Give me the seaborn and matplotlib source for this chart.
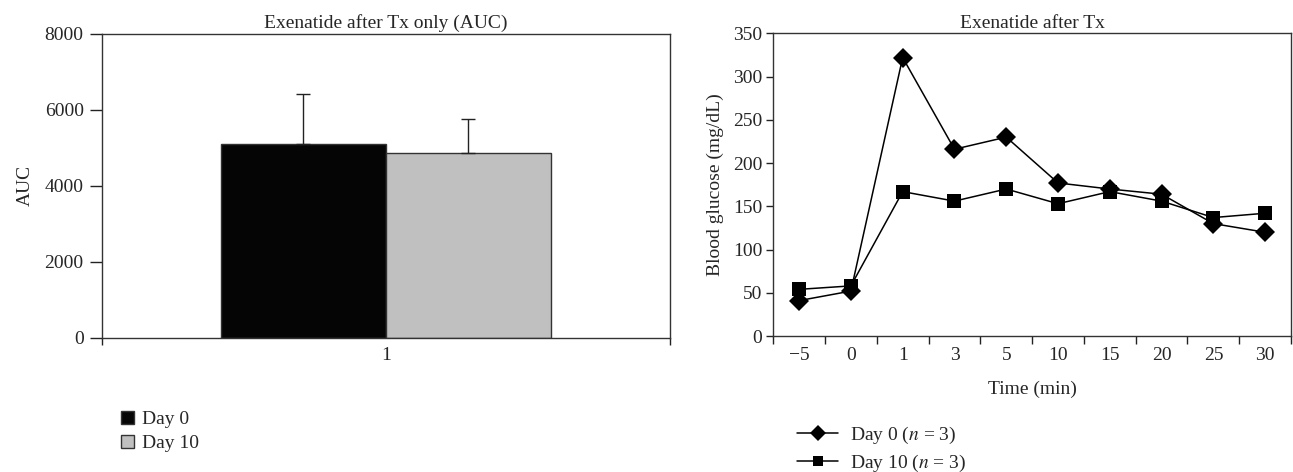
import seaborn as sns
import matplotlib.pyplot as plt
import pandas as pd
from matplotlib.patches import Patch
from matplotlib.lines import Line2D

# AUC bar chart (left)
auc_days = ["Day 0", "Day 10"]
auc_mean = [5095, 4865]
auc_err = [1305, 885]

# blood glucose time course (right)
time_labels = ["\u22125", "0", "1", "3", "5", "10", "15", "20", "25", "30"]
day0_glucose = [41, 52, 322, 216, 230, 177, 170, 164, 130, 120]
day10_glucose = [54, 58, 167, 156, 170, 153, 167, 156, 137, 142]

sns.set_theme(style="white")
plt.rcParams["font.family"] = ["Liberation Serif", "DejaVu Serif"]
plt.rcParams["mathtext.fontset"] = "stix"
fs = 14

fig = plt.figure(figsize=(12.93, 4.72), dpi=100)
ax1 = fig.add_axes([0.0787, 0.2845, 0.4395, 0.6445])
ax2 = fig.add_axes([0.598, 0.288, 0.4005, 0.6414])

# ---- left: bars ----
df_auc = pd.DataFrame({"group": ["1", "1"], "day": auc_days, "auc": auc_mean})
colors = ["#050505", "#c0c0c0"]
sns.barplot(data=df_auc, x="group", y="auc", hue="day", palette=colors,
            width=0.58, gap=0, edgecolor="#333333", linewidth=1.0,
            errorbar=None, legend=False, ax=ax1)
bars = [p for p in ax1.patches][:2]
for p, e in zip(bars, auc_err):
    xc = p.get_x() + p.get_width() / 2
    ax1.errorbar([xc], [p.get_height()], yerr=[[0], [e]], fmt="none",
                 ecolor="#222222", elinewidth=1.0, capsize=5, capthick=1.0)
ax1.set_xlim(-0.5, 0.5)
ax1.set_ylim(0, 8000)
ax1.set_yticks([0, 2000, 4000, 6000, 8000])
ax1.set_xticks([0])
ax1.set_xticklabels(["1"])
ax1.set_xticks([-0.5, 0.5], minor=True)
ax1.tick_params(axis="x", which="major", length=0, pad=7, labelsize=fs)
ax1.tick_params(axis="x", which="minor", length=5, width=1, direction="out",
                bottom=True, color="#222222")
ax1.tick_params(axis="y", length=9, width=1, direction="out", left=True,
                pad=4, labelsize=fs, color="#222222")
ax1.set_xlabel("")
ax1.set_ylabel("AUC", fontsize=fs, labelpad=8)
ax1.set_title("Exenatide after Tx only (AUC)", fontsize=fs, pad=4)
for s in ax1.spines.values():
    s.set_color("#333333")
    s.set_linewidth(1.0)

fig.legend(handles=[Patch(facecolor=colors[0], edgecolor="#333333", label=auc_days[0]),
                    Patch(facecolor=colors[1], edgecolor="#333333", label=auc_days[1])],
           loc="upper left", bbox_to_anchor=(0.086, 0.15), frameon=False,
           fontsize=fs, handlelength=0.65, handleheight=0.65, handletextpad=0.45,
           labelspacing=0.35, borderpad=0, bbox_transform=fig.transFigure)

# ---- right: lines ----
pos = list(range(len(time_labels)))
df_g = pd.DataFrame({
    "pos": pos + pos,
    "glucose": day0_glucose + day10_glucose,
    "series": ["Day 0"] * len(pos) + ["Day 10"] * len(pos),
})
sns.lineplot(data=df_g, x="pos", y="glucose", style="series",
             markers={"Day 0": "D", "Day 10": "s"}, dashes=False,
             color="black", linewidth=1.1, markersize=10, markeredgewidth=0,
             legend=False, ax=ax2)
ax2.set_xlim(-0.5, len(pos) - 0.5)
ax2.set_ylim(0, 350)
ax2.set_yticks(range(0, 351, 50))
ax2.set_xticks(pos)
ax2.set_xticklabels(time_labels)
ax2.set_xticks([p - 0.5 for p in pos] + [len(pos) - 0.5], minor=True)
ax2.tick_params(axis="x", which="major", length=0, pad=8, labelsize=fs)
ax2.tick_params(axis="x", which="minor", length=6, width=1, direction="out",
                bottom=True, color="#222222")
ax2.tick_params(axis="y", length=5, width=1, direction="out", left=True,
                pad=3, labelsize=fs, color="#222222")
ax2.set_xlabel("Time (min)", fontsize=fs, labelpad=12)
ax2.set_ylabel("Blood glucose (mg/dL)", fontsize=fs, labelpad=6)
ax2.set_title("Exenatide after Tx", fontsize=fs, pad=4)
for s in ax2.spines.values():
    s.set_color("#333333")
    s.set_linewidth(1.0)

fig.legend(handles=[Line2D([], [], color="black", lw=1.1, marker="D", ms=8, mew=0,
                           label="Day 0 ($n$ = 3)"),
                    Line2D([], [], color="black", lw=1.1, marker="s", ms=7.5, mew=0,
                           label="Day 10 ($n$ = 3)")],
           loc="upper left", bbox_to_anchor=(0.609, 0.12), frameon=False,
           fontsize=fs, handlelength=2.1, handletextpad=0.6,
           labelspacing=0.35, borderpad=0, bbox_transform=fig.transFigure)

fig.savefig("out.png", dpi=100)
